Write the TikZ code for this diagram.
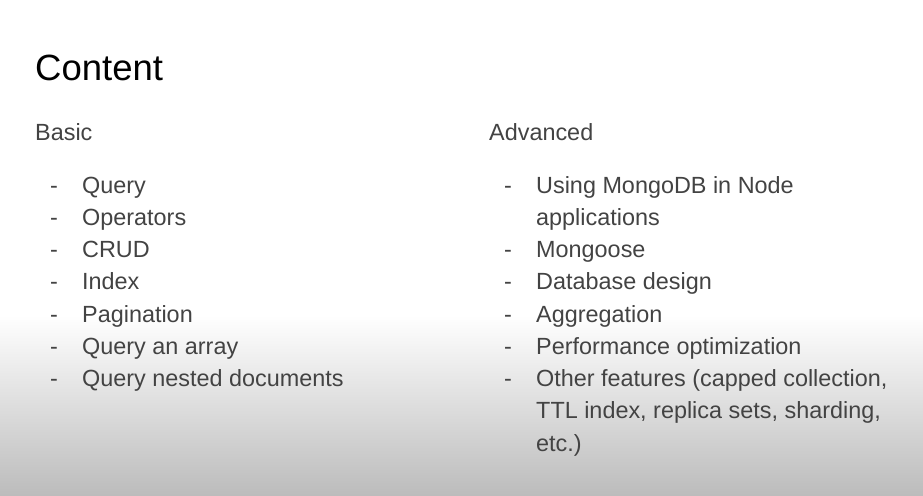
\documentclass[tikz,border=0pt]{standalone}
\usepackage{fontspec}
\setmainfont{Liberation Sans}
\definecolor{textgray}{HTML}{434343}
\definecolor{fadegray}{RGB}{188,188,188}
\tikzset{
  item/.style={anchor=base west, inner sep=0pt, text=textgray, font=\fontsize{23.4}{28}\selectfont},
  dashmark/.style={anchor=base west, inner sep=0pt, text=textgray, font=\fontsize{23.4}{28}\selectfont}
}

\begin{document}
\begin{tikzpicture}[x=1pt, y=-1pt]

  % Background
  \fill[white] (0,0) rectangle (923,495);
  \shade[top color=white, bottom color=fadegray] (0,315) rectangle (923,495);
  \useasboundingbox (0,0) rectangle (923,495);
  % Title
  \node[anchor=base west, inner sep=0pt, font=\fontsize{36.5}{42}\selectfont] (title) at (35,80) {Content};
  % Column headings
  \node[item] (basic) at (35,140) {Basic};
  \node[item] (advanced) at (489,140) {Advanced};
  % Basic items
  \foreach \t [count=\i] in {Query, Operators, CRUD, Index, Pagination, Query an array, Query nested documents} {
    \pgfmathsetmacro{\y}{193 + (\i-1)*32.3}
    \node[dashmark] (bdash\i) at (50,\y) {-};
    \node[item] (basic\i) at (82,\y) {\t};
  }
  % Advanced items
  \foreach \t/\r [count=\i] in {Using MongoDB in Node/0, Mongoose/2, Database design/3, Aggregation/4, Performance optimization/5, Other features (capped collection{,}/6} {
    \pgfmathsetmacro{\y}{193 + \r*32.3}
    \node[dashmark] (adash\i) at (504,\y) {-};
    \node[item] (adv\i) at (536,\y) {\t};
  }
  % Wrapped lines
  \node[item] (adv1b) at (536,225.3) {applications};
  \node[item] (adv6b) at (536,418.8) {TTL index, replica sets, sharding,};
  \node[item] (adv6c) at (536,451.1) {etc.)};

\end{tikzpicture}
\end{document}
